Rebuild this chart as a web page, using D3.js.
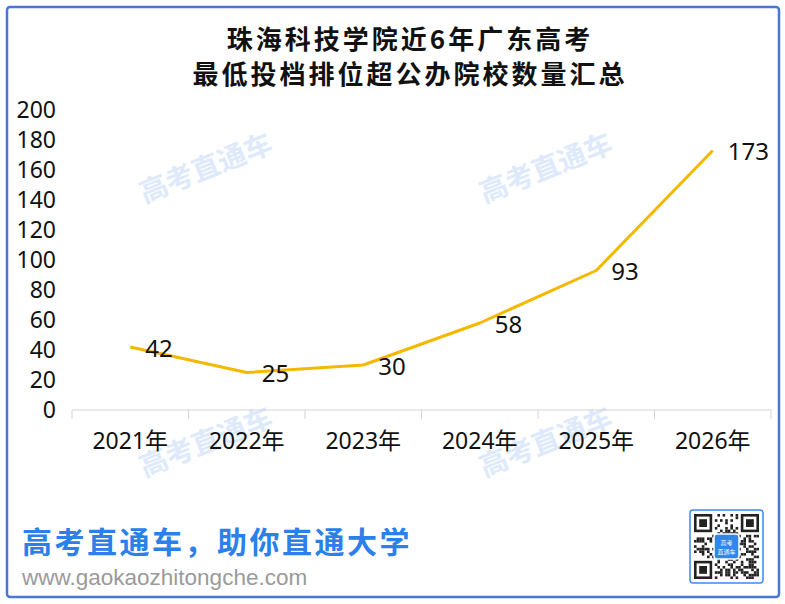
<!DOCTYPE html>
<html>
<head>
<meta charset="utf-8">
<script src="https://cdn.jsdelivr.net/npm/d3@7"></script>
<style>
  html, body { margin: 0; padding: 0; background: #fff; }
  svg { display: block; }
</style>
</head>
<body>
<svg id="chart" width="785" height="604"></svg>
<script>
// Data
var years  = ["2021年", "2022年", "2023年", "2024年", "2025年", "2026年"];
var counts = [42, 25, 30, 58, 93, 173];
var yTicks = [0, 20, 40, 60, 80, 100, 120, 140, 160, 180, 200];
var titleLines = ["珠海科技学院近6年广东高考", "最低投档排位超公办院校数量汇总"];

var svg = d3.select("#chart");
var numFont = "'Noto Sans', 'Noto Sans CJK SC', sans-serif";
var cjkFont = "'Noto Sans CJK SC', 'Noto Sans', sans-serif";

// Frame
svg.append("rect")
    .attr("x", 7).attr("y", 7)
    .attr("width", 772).attr("height", 590)
    .attr("rx", 3)
    .style("fill", "#fff")
    .style("stroke", "#4a78d0")
    .style("stroke-width", 2.5);

// Watermarks
var marks = [[205, 166], [545, 166], [205, 440], [545, 440]];
svg.append("g").selectAll("text")
    .data(marks)
    .enter().append("text")
    .attr("transform", d => "translate(" + d[0] + "," + d[1] + ") rotate(-22)")
    .attr("text-anchor", "middle")
    .attr("dominant-baseline", "central")
    .style("font-family", cjkFont)
    .style("font-weight", "bold")
    .style("font-size", "28px")
    .style("fill", "#deeafb")
    .text("高考直通车");

// Title
svg.append("g").selectAll("text")
    .data(titleLines)
    .enter().append("text")
    .attr("x", 410)
    .attr("y", (d, i) => 37 + i * 35)
    .attr("text-anchor", "middle")
    .attr("dominant-baseline", "central")
    .style("font-family", cjkFont)
    .style("font-weight", "bold")
    .style("font-size", "26px")
    .style("letter-spacing", "3px")
    .style("fill", "#111")
    .text(d => d);

// Scales
var x = d3.scaleBand().domain(years).range([72, 771]);
var y = d3.scaleLinear().domain([0, 200]).range([410, 110]);

// Y axis (labels only)
var yAxisG = svg.append("g")
    .attr("transform", "translate(56,0)")
    .call(d3.axisLeft(y).tickValues(yTicks).tickSize(0).tickPadding(0));
yAxisG.select(".domain").remove();
yAxisG.selectAll("text")
    .style("font-family", numFont)
    .style("font-size", "23px")
    .style("fill", "#111");

// X axis baseline + category boundary ticks
var xAxisG = svg.append("g")
    .attr("transform", "translate(0," + y(0) + ")");
xAxisG.append("line")
    .attr("x1", x.range()[0]).attr("x2", x.range()[1])
    .style("stroke", "#d4d4d4").style("stroke-width", 1);
var bounds = years.map(d => x(d)).concat([x.range()[1]]);
xAxisG.selectAll(".bound")
    .data(bounds)
    .enter().append("line")
    .attr("class", "bound")
    .attr("x1", d => d).attr("x2", d => d)
    .attr("y1", 0).attr("y2", 9)
    .style("stroke", "#d4d4d4").style("stroke-width", 1);
xAxisG.selectAll(".cat")
    .data(years)
    .enter().append("text")
    .attr("class", "cat")
    .attr("x", d => x(d) + x.bandwidth() / 2)
    .attr("y", 30)
    .attr("text-anchor", "middle")
    .attr("dominant-baseline", "central")
    .style("font-family", numFont)
    .style("font-size", "23px")
    .style("fill", "#111")
    .text(d => d);

// Line
var pts = years.map((d, i) => ({ year: d, value: counts[i] }));
var line = d3.line()
    .x(d => x(d.year) + x.bandwidth() / 2)
    .y(d => y(d.value));
svg.append("path")
    .datum(pts)
    .attr("d", line)
    .style("fill", "none")
    .style("stroke", "#f5b800")
    .style("stroke-width", 3)
    .style("stroke-linejoin", "round");

// Value labels
svg.append("g").selectAll("text")
    .data(pts)
    .enter().append("text")
    .attr("x", d => x(d.year) + x.bandwidth() / 2 + 15)
    .attr("y", d => y(d.value))
    .attr("dominant-baseline", "central")
    .style("font-family", numFont)
    .style("font-size", "24px")
    .style("fill", "#111")
    .text(d => d.value);

// Footer
svg.append("text")
    .attr("x", 22).attr("y", 540)
    .attr("dominant-baseline", "central")
    .style("font-family", cjkFont)
    .style("font-weight", "bold")
    .style("font-size", "30px")
    .style("letter-spacing", "2.5px")
    .style("fill", "#2b80ea")
    .text("高考直通车，助你直通大学");

svg.append("text")
    .attr("x", 22).attr("y", 577)
    .attr("dominant-baseline", "central")
    .style("font-family", "'Liberation Sans', Arial, sans-serif")
    .style("font-size", "22.5px")
    .style("fill", "#9a9a9a")
    .text("www.gaokaozhitongche.com");

// QR badge (decorative)
var qr = svg.append("g").attr("transform", "translate(690,510)");
qr.append("rect")
    .attr("width", 73).attr("height", 73).attr("rx", 3)
    .style("fill", "#fff").style("stroke", "#3d8bf0").style("stroke-width", 1.5);
var n = 25, cell = 65 / n;
var cells = [];
for (var r = 0; r < n; r++) {
    for (var c = 0; c < n; c++) {
        var h = ((r * 73856093) ^ (c * 19349663) ^ (r * c * 83492791)) >>> 0;
        if (h % 7 < 3) cells.push([r, c]);
    }
}
function inFinder(r, c) {
    return (r < 8 && c < 8) || (r < 8 && c >= n - 8) || (r >= n - 8 && c < 8);
}
qr.append("g").attr("transform", "translate(4,4)").selectAll("rect")
    .data(cells.filter(d => !inFinder(d[0], d[1])))
    .enter().append("rect")
    .attr("x", d => d[1] * cell).attr("y", d => d[0] * cell)
    .attr("width", cell).attr("height", cell)
    .style("fill", "#222");
[[0, 0], [0, n - 7], [n - 7, 0]].forEach(function(p) {
    var g = qr.append("g").attr("transform", "translate(" + (4 + p[1] * cell) + "," + (4 + p[0] * cell) + ")");
    g.append("rect").attr("width", 7 * cell).attr("height", 7 * cell).style("fill", "#222");
    g.append("rect").attr("x", cell).attr("y", cell).attr("width", 5 * cell).attr("height", 5 * cell).style("fill", "#fff");
    g.append("rect").attr("x", 2 * cell).attr("y", 2 * cell).attr("width", 3 * cell).attr("height", 3 * cell).style("fill", "#222");
});
qr.append("rect")
    .attr("x", 24).attr("y", 24).attr("width", 25).attr("height", 25).attr("rx", 3)
    .style("fill", "#2f86f0").style("stroke", "#fff").style("stroke-width", 1.5);
qr.append("text").attr("x", 36.5).attr("y", 32).attr("text-anchor", "middle")
    .attr("dominant-baseline", "central")
    .style("font-family", cjkFont).style("font-size", "6px").style("fill", "#fff").text("高考");
qr.append("text").attr("x", 36.5).attr("y", 41).attr("text-anchor", "middle")
    .attr("dominant-baseline", "central")
    .style("font-family", cjkFont).style("font-size", "6px").style("fill", "#fff").text("直通车");
</script>
</body>
</html>
